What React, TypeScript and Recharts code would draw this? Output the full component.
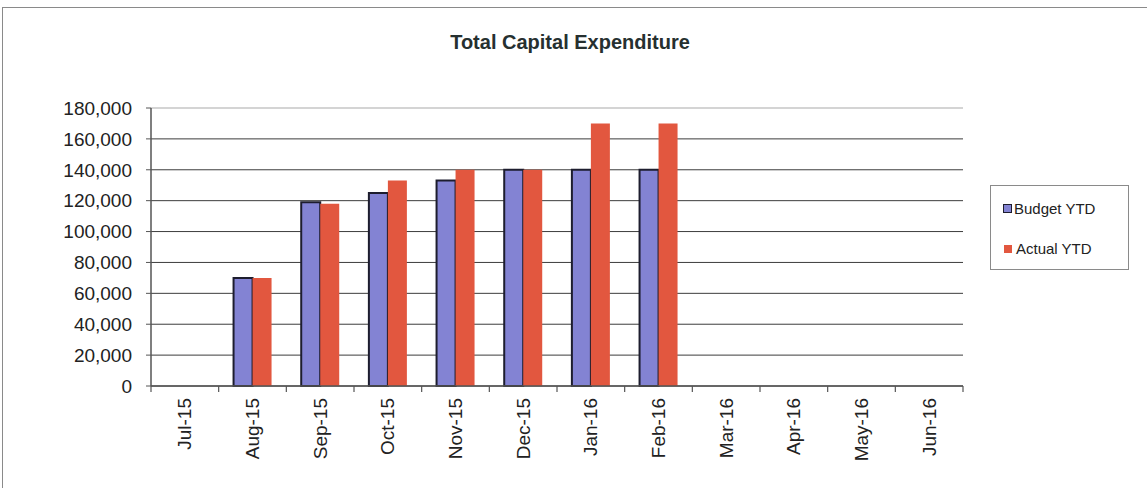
import { BarChart, Bar, XAxis, YAxis, CartesianGrid, ReferenceLine } from "recharts";

// values (YTD, cumulative)
const months = ["Jul-15", "Aug-15", "Sep-15", "Oct-15", "Nov-15", "Dec-15", "Jan-16", "Feb-16", "Mar-16", "Apr-16", "May-16", "Jun-16"];
const budgetYtd = [null, 70000, 119000, 125000, 133000, 140000, 140000, 140000, null, null, null, null];
const actualYtd = [null, 70000, 118000, 133000, 140000, 140000, 170000, 170000, null, null, null, null];
const yTicks = [0, 20000, 40000, 60000, 80000, 100000, 120000, 140000, 160000, 180000];

const seriesNames = { budget: "Budget YTD", actual: "Actual YTD" };
const BUDGET_FILL = "#8383d3";
const BUDGET_STROKE = "#1d1d2e";
const ACTUAL_FILL = "#e2573f";
const FONT = "'Liberation Sans', Arial, sans-serif";

const data = months.map((m, i) => ({ month: m, budget: budgetYtd[i], actual: actualYtd[i] }));

// Excel style: tick marks sit between categories, labels rotated
// eslint-disable-next-line @typescript-eslint/no-explicit-any
function MonthTick(props: any) {
    const { x, y, payload, index, width, visibleTicksCount } = props;
    const band = width && visibleTicksCount ? width / visibleTicksCount : 812 / 12;
    const left = x - band / 2;
    const right = x + band / 2;
    const ty = y + 12;
    return (
        <g>
            <line x1={left} y1={y} x2={left} y2={y + 6} stroke="#555" strokeWidth={1.2} />
            {index === visibleTicksCount - 1 && (
                <line x1={right} y1={y} x2={right} y2={y + 6} stroke="#555" strokeWidth={1.2} />
            )}
            <text
                x={x}
                y={ty}
                transform={`rotate(-90, ${x}, ${ty})`}
                textAnchor="end"
                dominantBaseline="central"
                fontSize={19}
                fill="#222"
                fontFamily={FONT}
            >
                {payload.value}
            </text>
        </g>
    );
}

export default function App() {
    return (
        <div style={{ position: "absolute", left: 0, top: 0, width: 1147, height: 488, background: "#fff", overflow: "hidden", fontFamily: FONT }}>
            <div style={{ position: "absolute", left: 2, top: 7, width: 1160, height: 500, border: "1px solid #8a8a8a" }} />
            <div style={{ position: "absolute", left: 0, top: 31, width: 1140, textAlign: "center", fontSize: 20, fontWeight: "bold", color: "#263030" }}>
                Total Capital Expenditure
            </div>

            <div style={{ position: "absolute", left: 0, top: 0 }}>
                <BarChart
                    width={1147}
                    height={488}
                    data={data}
                    margin={{ top: 108, right: 184, bottom: 0, left: 0 }}
                    barCategoryGap="22%"
                    barGap={0}
                >
                    <CartesianGrid vertical={false} stroke="#3c3c3c" strokeWidth={1} />
                    <ReferenceLine y={180000} stroke="#d4d4d4" strokeWidth={2} />
                    <XAxis
                        dataKey="month"
                        interval={0}
                        height={102}
                        tickSize={0}
                        tickMargin={0}
                        tickLine={false}
                        axisLine={{ stroke: "#555", strokeWidth: 1.5 }}
                        tick={<MonthTick />}
                    />
                    <YAxis
                        width={151}
                        domain={[0, 180000]}
                        ticks={yTicks}
                        interval={0}
                        tickSize={5}
                        tickMargin={14}
                        tickLine={{ stroke: "#555" }}
                        axisLine={{ stroke: "#555", strokeWidth: 1.5 }}
                        tick={{ fontSize: 19, fill: "#222", fontFamily: FONT }}
                        tickFormatter={(v) => v.toLocaleString("en-US")}
                    />
                    <Bar dataKey="budget" name={seriesNames.budget} fill={BUDGET_FILL} stroke={BUDGET_STROKE} strokeWidth={2} isAnimationActive={false} />
                    <Bar dataKey="actual" name={seriesNames.actual} fill={ACTUAL_FILL} isAnimationActive={false} />
                </BarChart>
            </div>

            <div style={{ position: "absolute", left: 990, top: 185, width: 137, height: 83, border: "1px solid #8a8a8a", fontSize: 15, color: "#222" }}>
                <div style={{ position: "absolute", left: 12, top: 14, display: "flex", alignItems: "center" }}>
                    <span style={{ width: 7, height: 7, background: BUDGET_FILL, border: `1.5px solid ${BUDGET_STROKE}`, marginRight: 2 }} />
                    {seriesNames.budget}
                </div>
                <div style={{ position: "absolute", left: 12, top: 54, display: "flex", alignItems: "center" }}>
                    <span style={{ width: 8, height: 8, background: ACTUAL_FILL, marginRight: 4, marginLeft: 1 }} />
                    {seriesNames.actual}
                </div>
            </div>
        </div>
    );
}
